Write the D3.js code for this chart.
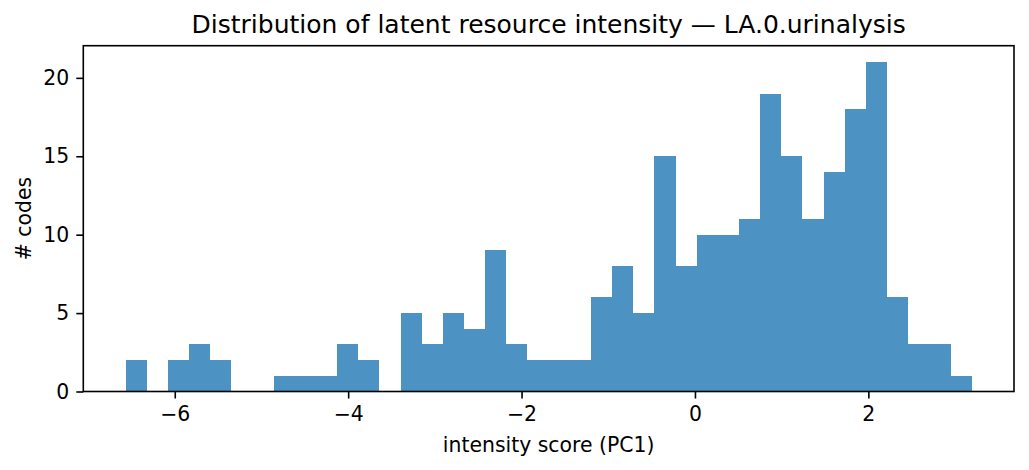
<!DOCTYPE html>
<html>
<head>
<meta charset="utf-8">
<script src="https://cdn.jsdelivr.net/npm/d3@7"></script>
<style>
  html, body { margin: 0; padding: 0; background: #fff; }
  svg { display: block; font-family: "DejaVu Sans", sans-serif; }
</style>
</head>
<body>
<svg id="chart" width="1029" height="470"></svg>
<script>
// ---- data ----
const binCounts = [2,0,2,3,2,0,0,1,1,1,3,2,0,5,3,5,4,9,3,2,2,2,6,8,5,15,8,10,10,11,19,15,11,14,18,21,6,3,3,1];
const dataMin = -6.567;
const dataMax = 3.192;
const xTickValues = [-6, -4, -2, 0, 2];
const yTickValues = [0, 5, 10, 15, 20];
const titleText = "Distribution of latent resource intensity — LA.0.urinalysis";
const xLabelText = "intensity score (PC1)";
const yLabelText = "# codes";

// ---- layout ----
const W = 1029, H = 470;
const plot = { left: 83.3, right: 1014, top: 45.7, bottom: 391.5 };

const nBins = binCounts.length;
const binW = (dataMax - dataMin) / nBins;
const bins = binCounts.map((c, i) => ({ x0: dataMin + i * binW, x1: dataMin + (i + 1) * binW, count: c }));

const span = dataMax - dataMin;
const x = d3.scaleLinear()
  .domain([dataMin - 0.05 * span, dataMax + 0.05 * span])
  .range([plot.left, plot.right]);
const yMax = d3.max(binCounts) * 1.05;
const y = d3.scaleLinear().domain([0, yMax]).range([plot.bottom, plot.top]);

const svg = d3.select("#chart");

// bars
svg.append("g")
  .selectAll("rect")
  .data(bins.filter(b => b.count > 0))
  .join("rect")
  .attr("x", d => x(d.x0))
  .attr("width", d => x(d.x1) - x(d.x0))
  .attr("y", d => y(d.count))
  .attr("height", d => y(0) - y(d.count))
  .attr("fill", "#4c92c3")
  .attr("shape-rendering", "crispEdges");

const fmt = d3.format("d");

// x axis
const xAxis = svg.append("g")
  .attr("transform", `translate(0,${plot.bottom})`)
  .call(d3.axisBottom(x).tickValues(xTickValues).tickFormat(fmt).tickSize(7).tickPadding(8.5));
xAxis.select(".domain").remove();
xAxis.selectAll("line").attr("stroke", "#000").attr("stroke-width", 1.6);
xAxis.selectAll("text").attr("font-size", "20.4px").attr("fill", "#000")
  .attr("font-family", "DejaVu Sans");

// y axis
const yAxis = svg.append("g")
  .attr("transform", `translate(${plot.left},0)`)
  .call(d3.axisLeft(y).tickValues(yTickValues).tickFormat(fmt).tickSize(7).tickPadding(7));
yAxis.select(".domain").remove();
yAxis.selectAll("line").attr("stroke", "#000").attr("stroke-width", 1.6);
yAxis.selectAll("text").attr("font-size", "20.4px").attr("fill", "#000")
  .attr("font-family", "DejaVu Sans");

// spines
svg.append("rect")
  .attr("x", plot.left).attr("y", plot.top)
  .attr("width", plot.right - plot.left).attr("height", plot.bottom - plot.top)
  .attr("fill", "none").attr("stroke", "#000").attr("stroke-width", 1.6)
  .attr("stroke-linecap", "square");

// title
svg.append("text")
  .attr("x", (plot.left + plot.right) / 2).attr("y", 33.3)
  .attr("text-anchor", "middle").attr("font-size", "25px").attr("fill", "#000")
  .text(titleText);

// x label
svg.append("text")
  .attr("x", (plot.left + plot.right) / 2).attr("y", 451.5)
  .attr("text-anchor", "middle").attr("font-size", "20.4px").attr("fill", "#000")
  .text(xLabelText);

// y label
svg.append("text")
  .attr("transform", `translate(31,${(plot.top + plot.bottom) / 2}) rotate(-90)`)
  .attr("text-anchor", "middle").attr("font-size", "20.4px").attr("fill", "#000")
  .text(yLabelText);
</script>
</body>
</html>
